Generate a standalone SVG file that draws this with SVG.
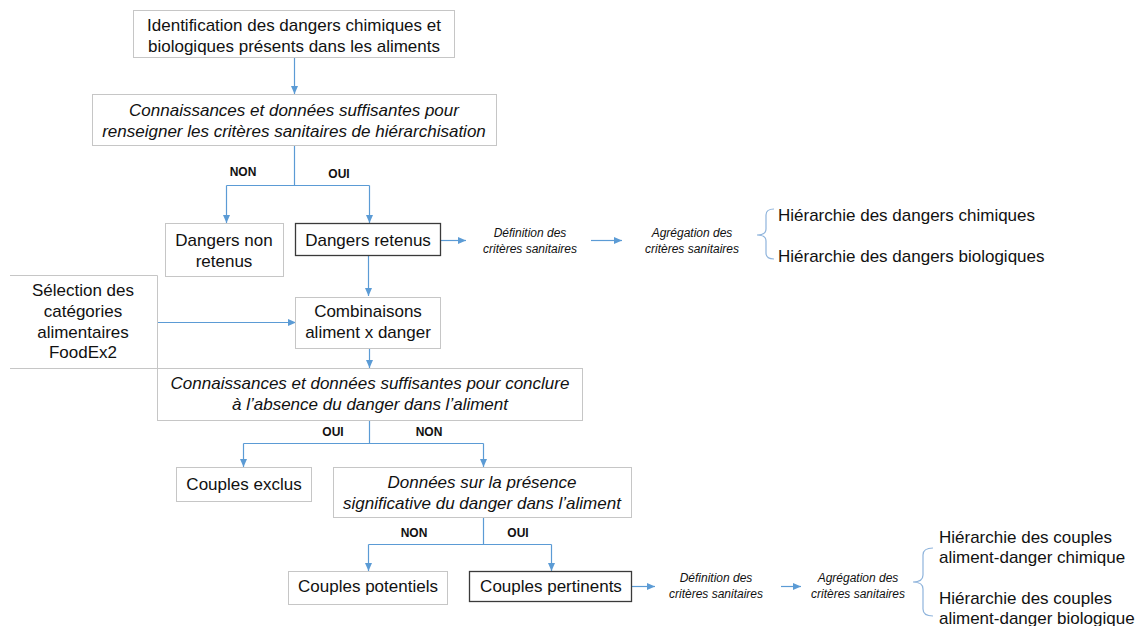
<svg xmlns="http://www.w3.org/2000/svg" width="1136" height="626" viewBox="0 0 1136 626">
  <style>
    text { font-family: "Liberation Sans", Arial, sans-serif; fill: #111; }
    .t { font-size: 17px; text-anchor: middle; }
    .tl { font-size: 17px; }
    .q { font-size: 17px; font-style: italic; text-anchor: middle; }
    .s { font-size: 12px; font-style: italic; text-anchor: middle; }
    .lab { font-size: 12px; font-weight: bold; text-anchor: middle; }
    .box { fill: #fff; stroke: #c6c6c6; stroke-width: 1; }
    .key { fill: #fff; stroke: #3a3a3a; stroke-width: 1.3; }
    .c { fill: none; stroke: #5b9bd5; stroke-width: 1.2; }
    .ca { fill: none; stroke: #5b9bd5; stroke-width: 1.2; marker-end: url(#ah); }
    .br { fill: none; stroke: #8fb4dc; stroke-width: 1.2; }
  </style>
  <defs>
    <marker id="ah" markerUnits="userSpaceOnUse" markerWidth="10" markerHeight="10" refX="9" refY="5" orient="auto">
      <path d="M1,1.5 L9,5 L1,8.5 Z" fill="#5b9bd5"/>
    </marker>
  </defs>
  <rect width="1136" height="626" fill="#fff"/>

  <g id="connectors">
    <path class="ca" d="M294.5,58 V94"/>
    <path class="c" d="M294.5,145 V185.5 M226.5,185.5 H369.5"/>
    <path class="ca" d="M226.5,185.5 V223"/>
    <path class="ca" d="M369.5,185.5 V223"/>
    <path class="ca" d="M441,240.5 H466"/>
    <path class="ca" d="M591,240.5 H622"/>
    <path class="ca" d="M368.5,256 V296"/>
    <path class="ca" d="M157,322.5 H296"/>
    <path class="ca" d="M369.5,348 V368"/>
    <path class="c" d="M369.5,420 V443.5 M243.5,443.5 H483.5"/>
    <path class="ca" d="M243.5,443.5 V467"/>
    <path class="ca" d="M483.5,443.5 V467"/>
    <path class="c" d="M483.5,518 V544.5 M368.5,544.5 H551.5"/>
    <path class="ca" d="M368.5,544.5 V571"/>
    <path class="ca" d="M551.5,544.5 V571"/>
    <path class="ca" d="M632,586.5 H655"/>
    <path class="ca" d="M781,586.5 H801"/>
  </g>

  <g id="n-identification">
    <rect class="box" x="133.5" y="10.5" width="321" height="47"/>
    <text class="t" x="294" y="31">Identification des dangers chimiques et</text>
    <text class="t" x="294" y="52">biologiques présents dans les aliments</text>
  </g>

  <g id="n-connaissances-criteres">
    <rect class="box" x="92.5" y="94.5" width="404" height="51"/>
    <text class="q" x="294" y="116">Connaissances et données suffisantes pour</text>
    <text class="q" x="294" y="137">renseigner les critères sanitaires de hiérarchisation</text>
  </g>

  <text class="lab" x="243" y="176">NON</text>
  <text class="lab" x="339" y="178">OUI</text>

  <g id="n-dangers-non-retenus">
    <rect class="box" x="165.5" y="223.5" width="118" height="53"/>
    <text class="t" x="224" y="246">Dangers non</text>
    <text class="t" x="224" y="267">retenus</text>
  </g>

  <g id="n-dangers-retenus">
    <rect class="key" x="295.5" y="223.5" width="145" height="32"/>
    <text class="t" x="368" y="246">Dangers retenus</text>
  </g>

  <g id="n-definition-1">
    <text class="s" x="530" y="237">Définition des</text>
    <text class="s" x="530" y="253">critères sanitaires</text>
  </g>

  <g id="n-agregation-1">
    <text class="s" x="692" y="237">Agrégation des</text>
    <text class="s" x="692" y="253">critères sanitaires</text>
  </g>

  <g id="n-hierarchie-dangers">
    <path class="br" d="M774,209 Q766,209 766,215 V229 Q766,235 757,235 Q766,235 766,241 V253 Q766,259 774,259"/>
    <text class="tl" x="778" y="221">Hiérarchie des dangers chimiques</text>
    <text class="tl" x="778" y="262">Hiérarchie des dangers biologiques</text>
  </g>

  <g id="n-selection-foodex2">
    <path class="box" fill="none" d="M10,275.5 H157.5 V368.5 H10"/>
    <text class="t" x="83" y="296">Sélection des</text>
    <text class="t" x="83" y="317">catégories</text>
    <text class="t" x="83" y="338">alimentaires</text>
    <text class="t" x="83" y="358">FoodEx2</text>
  </g>

  <g id="n-combinaisons">
    <rect class="box" x="295.5" y="297.5" width="145" height="51"/>
    <text class="t" x="368" y="317">Combinaisons</text>
    <text class="t" x="368" y="338">aliment x danger</text>
  </g>

  <g id="n-connaissances-absence">
    <rect class="box" x="157.5" y="368.5" width="425" height="52"/>
    <text class="q" x="370" y="389">Connaissances et données suffisantes pour conclure</text>
    <text class="q" x="370" y="410">à l’absence du danger dans l’aliment</text>
  </g>

  <text class="lab" x="333" y="436">OUI</text>
  <text class="lab" x="429" y="436">NON</text>

  <g id="n-couples-exclus">
    <rect class="box" x="176.5" y="467.5" width="135" height="34"/>
    <text class="t" x="244" y="490">Couples exclus</text>
  </g>

  <g id="n-donnees-presence">
    <rect class="box" x="333.5" y="467.5" width="298" height="50"/>
    <text class="q" x="482" y="488">Données sur la présence</text>
    <text class="q" x="482" y="509">significative du danger dans l’aliment</text>
  </g>

  <text class="lab" x="414" y="537">NON</text>
  <text class="lab" x="518" y="537">OUI</text>

  <g id="n-couples-potentiels">
    <rect class="box" x="288.5" y="571.5" width="159" height="33"/>
    <text class="t" x="368" y="592">Couples potentiels</text>
  </g>

  <g id="n-couples-pertinents">
    <rect class="key" x="469.5" y="571.5" width="162" height="30"/>
    <text class="t" x="551" y="592">Couples pertinents</text>
  </g>

  <g id="n-definition-2">
    <text class="s" x="716" y="582">Définition des</text>
    <text class="s" x="716" y="598">critères sanitaires</text>
  </g>

  <g id="n-agregation-2">
    <text class="s" x="858" y="582">Agrégation des</text>
    <text class="s" x="858" y="598">critères sanitaires</text>
  </g>

  <g id="n-hierarchie-couples">
    <path class="br" d="M933,548 Q923,548 923,555 V575 Q923,582 913,582 Q923,582 923,589 V609 Q923,616 933,616"/>
    <text class="tl" x="939" y="543">Hiérarchie des couples</text>
    <text class="tl" x="939" y="563">aliment-danger chimique</text>
    <text class="tl" x="939" y="604">Hiérarchie des couples</text>
    <text class="tl" x="939" y="624">aliment-danger biologique</text>
  </g>
</svg>
